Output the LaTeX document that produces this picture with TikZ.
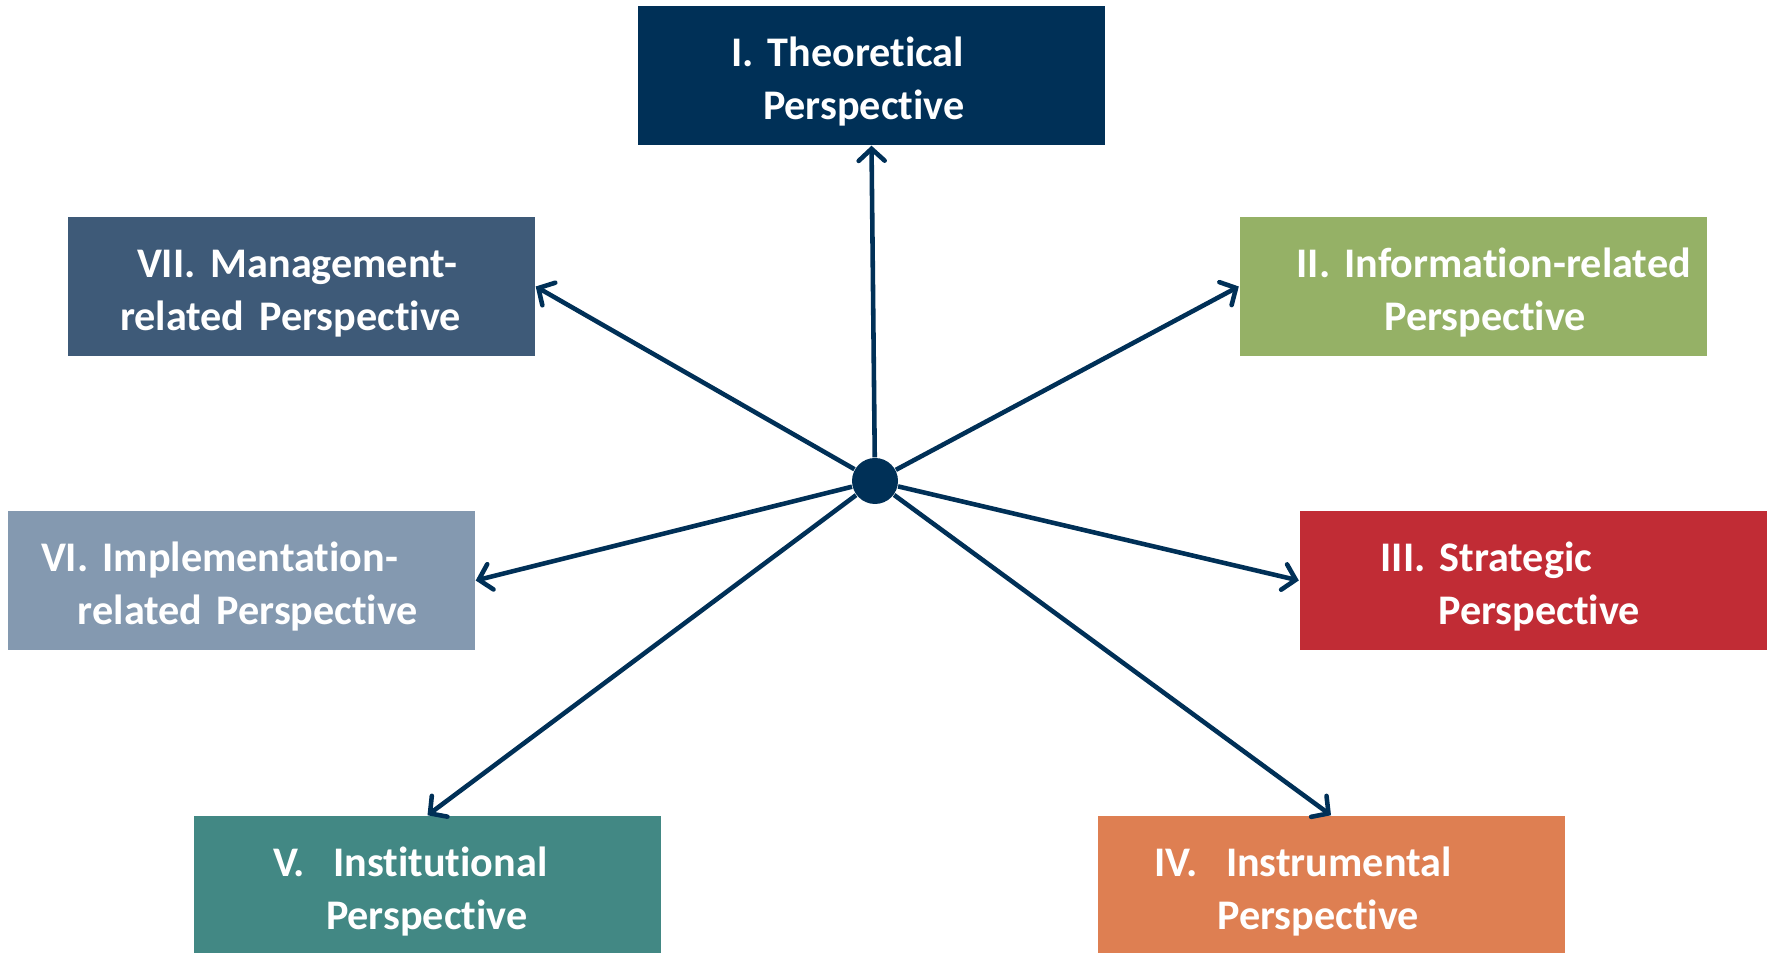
\documentclass[tikz,border=0pt]{standalone}
\usepackage{fontspec}
\setmainfont[Ligatures=NoCommon]{Carlito}
\usepackage{xcolor}
\usepackage{tikz}
\usetikzlibrary{positioning,arrows.meta}

\definecolor{navy}{RGB}{0,48,87}
\definecolor{slateblue}{RGB}{62,90,120}
\definecolor{olive}{RGB}{149,177,102}
\definecolor{greyblue}{RGB}{132,153,176}
\definecolor{crimson}{RGB}{193,44,53}
\definecolor{teal}{RGB}{66,136,132}
\definecolor{orange}{RGB}{222,127,82}

\begin{document}
\begin{tikzpicture}[
    persp/.style={rectangle, inner sep=0pt, text width=4.67cm, minimum height=1.39cm,
        align=left, text=white, font=\fontsize{12}{15}\selectfont\bfseries,
        execute at begin node={\rule{0pt}{0.42cm}}},
    link/.style={draw=navy, line width=1.3pt, -{Straight Barb[length=0.12cm, width=0.26cm, line cap=round]}}
]
    \useasboundingbox (0,0) rectangle (17.7,9.53);

    % centre
    \node[circle, fill=navy, minimum size=0.46cm, inner sep=0pt] (hub) at (8.75,4.72) {};

    % perspectives
    \node[persp, fill=navy] (theo) at (8.715,8.775)
        {\hspace*{0.93cm}I. Theoretical\\\hspace*{1.25cm}Perspective};
    \node[persp, fill=olive] (info) at (14.73,6.665)
        {\hspace*{0.57cm}II. Information-related\\\hspace*{1.45cm}Perspective};
    \node[persp, fill=crimson] (strat) at (15.33,3.725)
        {\hspace*{0.81cm}III. Strategic\\\hspace*{1.39cm}Perspective};
    \node[persp, fill=orange] (instr) at (13.31,0.675)
        {\hspace*{0.57cm}IV.\ \ Instrumental\\\hspace*{1.20cm}Perspective};
    \node[persp, fill=teal] (inst) at (4.275,0.675)
        {\hspace*{0.79cm}V.\ \ Institutional\\\hspace*{1.32cm}Perspective};
    \node[persp, fill=greyblue] (impl) at (2.415,3.725)
        {\hspace*{0.33cm}VI. Implementation-\\\hspace*{0.70cm}related Perspective};
    \node[persp, fill=slateblue] (mgmt) at (3.015,6.665)
        {\hspace*{0.69cm}VII.\hspace{0.15cm}Management-\\\hspace*{0.52cm}related\hspace{0.15cm}Perspective};

    % arrows
    \draw[link] (hub) -- (theo.south);
    \draw[link] (hub) -- (info.west);
    \draw[link] (hub) -- (strat.west);
    \draw[link] (hub) -- (instr.north);
    \draw[link] (hub) -- (inst.north);
    \draw[link] (hub) -- (impl.east);
    \draw[link] (hub) -- (mgmt.east);
\end{tikzpicture}
\end{document}
